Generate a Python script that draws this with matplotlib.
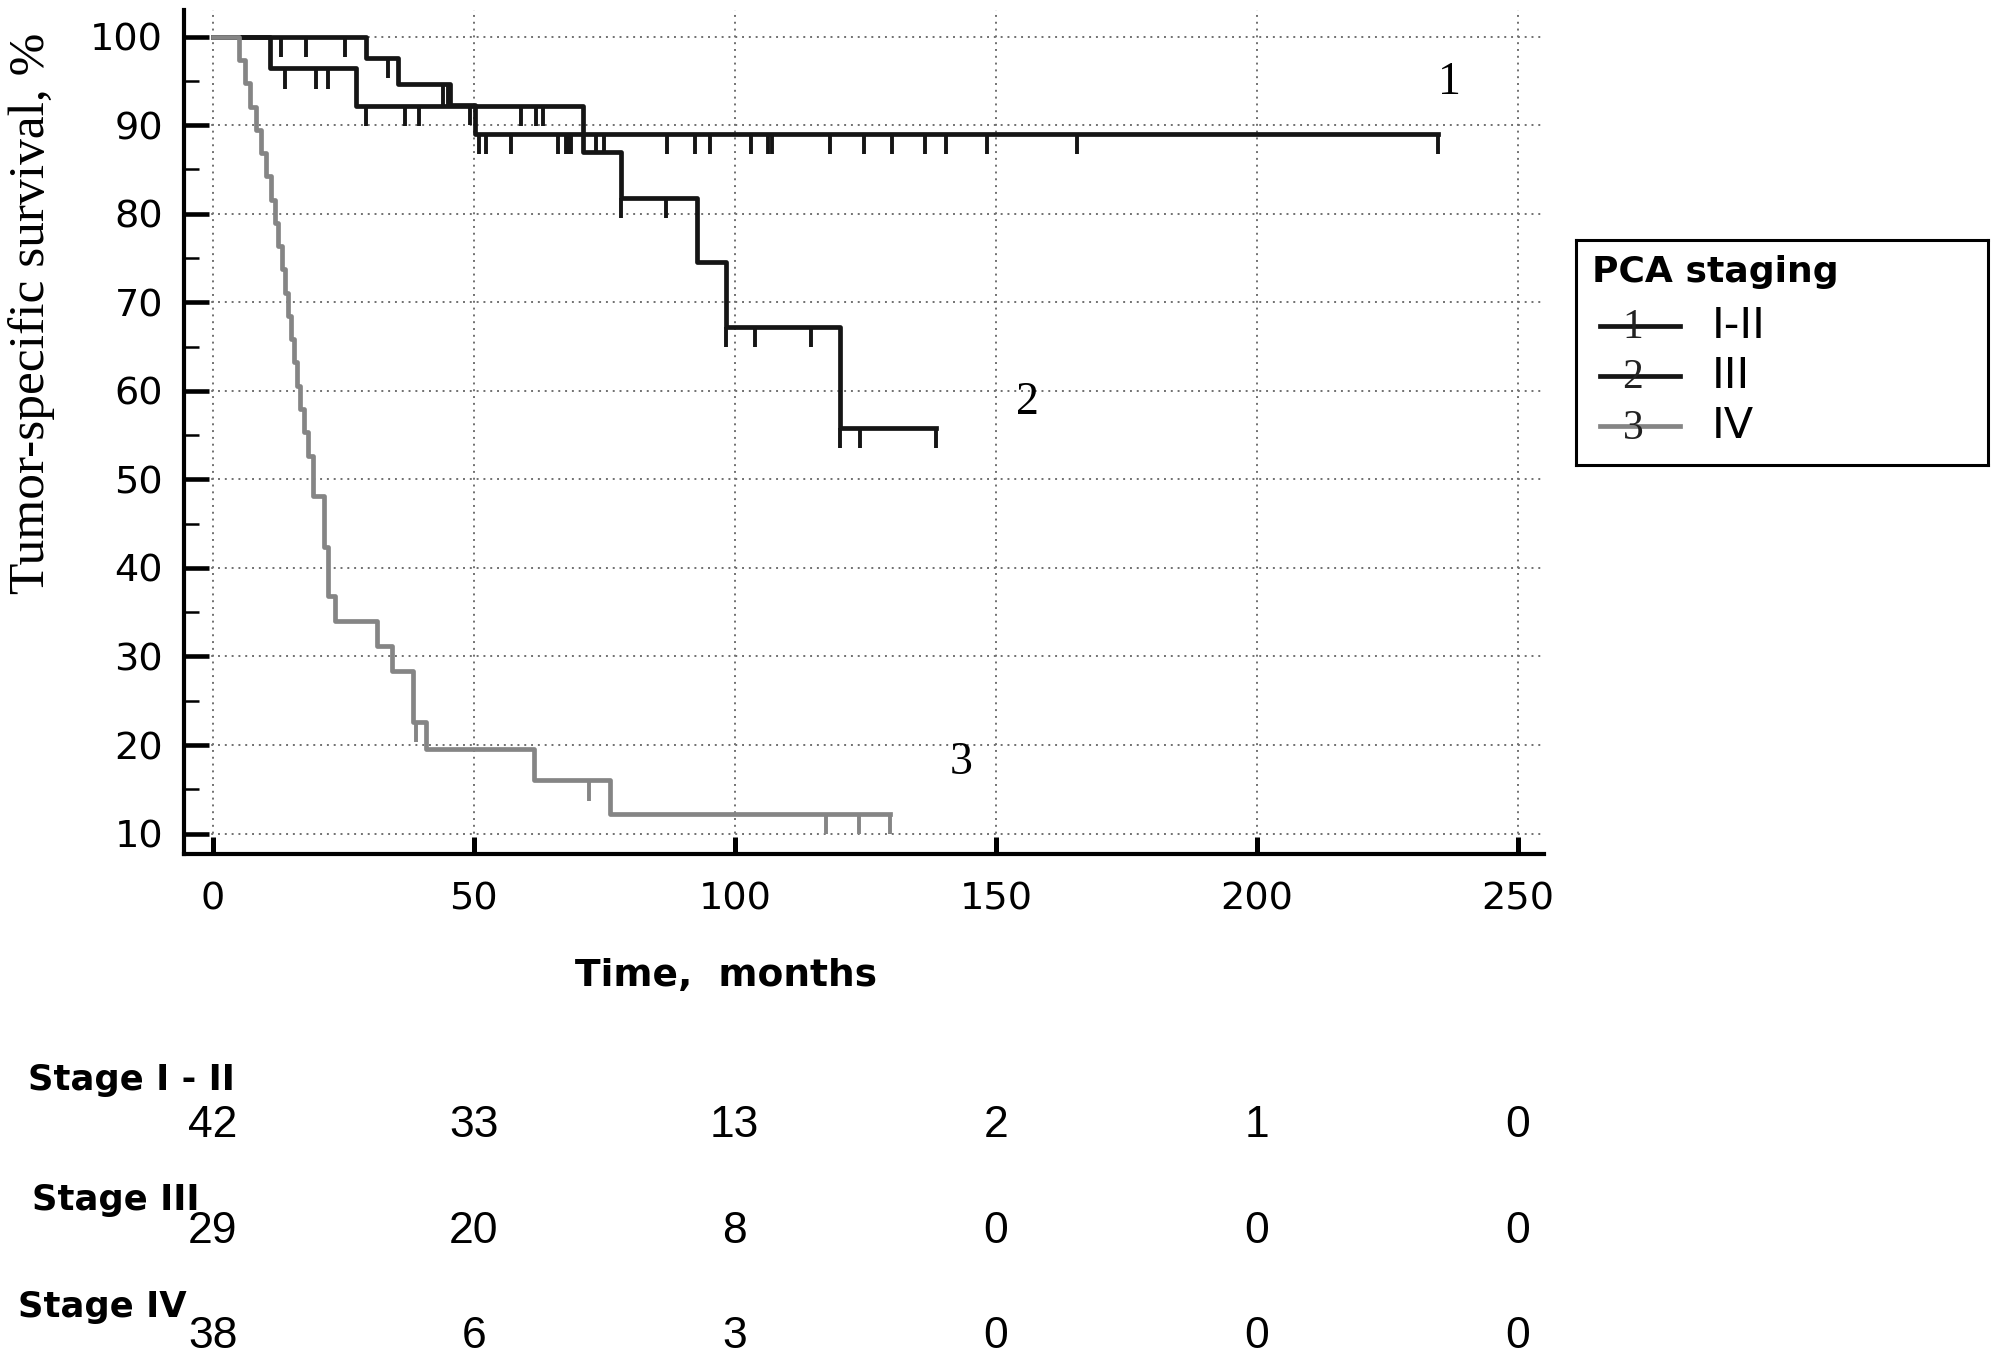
import numpy as np
import matplotlib
matplotlib.use('Agg')
import matplotlib.pyplot as plt
from matplotlib.transforms import blended_transform_factory

# Kaplan-Meier steps (time in months, survival in %)
stage1_times = [0, 29.4, 35.5, 45.4, 50.2]
stage1_surv = [100, 97.6, 94.6, 92.3, 89.0]
stage1_end = 234.7
stage1_censored = [13.1, 17.9, 25.3, 33.6, 44.1, 45.0, 49.2, 51.1, 52.4, 57.2, 66.1,
                   67.7, 68.3, 68.6, 73.4, 74.9, 87.0, 92.3, 95.3, 103.1, 106.3, 107.2,
                   118.3, 124.8, 130.1, 136.4, 140.5, 148.4, 165.6, 234.7]

stage2_times = [0, 10.9, 27.5, 70.9, 78.2, 92.8, 98.4, 120.2]
stage2_surv = [100, 96.4, 92.2, 87.0, 81.8, 74.6, 67.2, 55.8]
stage2_end = 138.5
stage2_censored = [13.8, 19.8, 22.0, 29.4, 36.9, 39.5, 59.1, 62.0, 63.2, 78.2, 86.8,
                   98.4, 103.9, 114.6, 120.2, 123.9, 138.5]

stage3_times = [0, 5.0, 6.1, 7.2, 8.3, 9.3, 10.2, 11.1, 12.0, 12.6, 13.2, 13.8, 14.4,
                15.0, 15.6, 16.1, 16.7, 17.4, 18.2, 19.2, 21.4, 22.1, 23.4, 31.5, 34.3,
                38.3, 40.9, 61.6, 76.1]
stage3_surv = [100, 97.4, 94.7, 92.1, 89.5, 86.8, 84.2, 81.6, 78.9, 76.3, 73.7, 71.1,
               68.4, 65.8, 63.2, 60.5, 57.9, 55.3, 52.6, 48.1, 42.4, 36.8, 34.0, 31.2,
               28.4, 22.6, 19.5, 16.0, 12.2]
stage3_end = 129.7
stage3_censored = [39.0, 72.1, 117.5, 123.7, 129.7]

# numbers at risk
risk_times = [0, 50, 100, 150, 200, 250]
risk_stage1 = [42, 33, 13, 2, 1, 0]
risk_stage2 = [29, 20, 8, 0, 0, 0]
risk_stage3 = [38, 6, 3, 0, 0, 0]
risk_labels = ["Stage I - II", "Stage III", "Stage IV"]

legend_labels = ["I-II", "III", "IV"]
curve_numbers = ["1", "2", "3"]

BLACK = "#151515"
GREY = "#858585"


def level_at(times, surv, t):
    idx = np.searchsorted(times, t, side="right") - 1
    return np.array(surv)[idx]


fig = plt.figure(figsize=(20, 13.69), dpi=100)
ax = fig.add_axes([0.092, 0.3762, 0.680, 0.6165])

curves = [
    (stage1_times, stage1_surv, stage1_end, stage1_censored, BLACK),
    (stage2_times, stage2_surv, stage2_end, stage2_censored, BLACK),
    (stage3_times, stage3_surv, stage3_end, stage3_censored, GREY),
]
for times, surv, end, cens, color in curves:
    ax.step(times + [end], surv + [surv[-1]], where="post", color=color, lw=3.4, zorder=3)
    lev = level_at(times, surv, cens)
    ax.vlines(cens, lev - 2.3, lev, color=color, lw=2.8, zorder=3)

# curve numbers
ax.text(236.9, 94.8, "1", family="Liberation Serif", fontsize=33, ha="center", va="center")
ax.text(156.1, 58.6, "2", family="Liberation Serif", fontsize=33, ha="center", va="center")
ax.text(143.3, 18.0, "3", family="Liberation Serif", fontsize=33, ha="center", va="center")

ax.set_xlim(-5.5, 255)
ax.set_ylim(7.7, 103)
ax.set_xticks([0, 50, 100, 150, 200, 250])
ax.set_yticks(range(10, 101, 10))
ax.set_yticks(range(15, 100, 10), minor=True)
ax.grid(True, which="major", linestyle=(0, (1, 2.5)), color="#707070", lw=1.4, zorder=0)

for side in ["top", "right"]:
    ax.spines[side].set_visible(False)
for side in ["left", "bottom"]:
    ax.spines[side].set_linewidth(3)
    ax.spines[side].set_color("black")

ax.tick_params(axis="y", which="major", direction="in", length=18, width=3.3,
               labelsize=27.5, pad=15)
ax.tick_params(axis="y", which="minor", direction="in", length=11, width=1.8)
ax.tick_params(axis="x", which="major", direction="in", length=12, width=3.6,
               labelsize=27.5, pad=20)
for lab in ax.get_xticklabels() + ax.get_yticklabels():
    lab.set_family("DejaVu Sans")

fig.text(0.016, 0.7714, "Tumor-specific survival, %", rotation=90, family="Liberation Serif",
         fontsize=37, ha="center", va="center")
fig.text(0.363, 0.287, "Time,  months", family="DejaVu Sans", weight="bold",
         fontsize=27, ha="center", va="center")

# numbers at risk table
tr = blended_transform_factory(ax.transData, fig.transFigure)
label_pos = [(0.0140, 0.2111), (0.0160, 0.1234), (0.0090, 0.0455)]
row_y = [0.1782, 0.1003, 0.0236]
for label, (lx, ly), ry, counts in zip(risk_labels, label_pos, row_y,
                                      [risk_stage1, risk_stage2, risk_stage3]):
    fig.text(lx, ly, label, family="DejaVu Sans", weight="bold", fontsize=25.5,
             ha="left", va="center")
    for t, n in zip(risk_times, counts):
        ax.text(t, ry, str(n), transform=tr, family="Liberation Sans", fontsize=32,
                ha="center", va="center", clip_on=False)

# legend box
lax = fig.add_axes([0.788, 0.6603, 0.206, 0.1644])
lax.set_xlim(0, 1)
lax.set_ylim(0, 1)
lax.set_xticks([])
lax.set_yticks([])
for sp in lax.spines.values():
    sp.set_linewidth(2.2)
lax.text(0.038, 0.815, "PCA staging", family="DejaVu Sans", weight="bold", fontsize=26,
         ha="left", va="baseline")
legend_y = [0.618, 0.396, 0.173]
legend_colors = [BLACK, BLACK, GREY]
for y, lab, num, c in zip(legend_y, legend_labels, curve_numbers, legend_colors):
    lax.plot([0.058, 0.252], [y, y], color=c, lw=3.4)
    lax.text(0.138, y - 0.01, num, family="Liberation Serif", fontsize=30, ha="center",
             va="center", color="#222222")
    lax.text(0.329, y, lab, family="DejaVu Sans", fontsize=31, ha="left", va="center")

fig.savefig("out.png", dpi=100)
